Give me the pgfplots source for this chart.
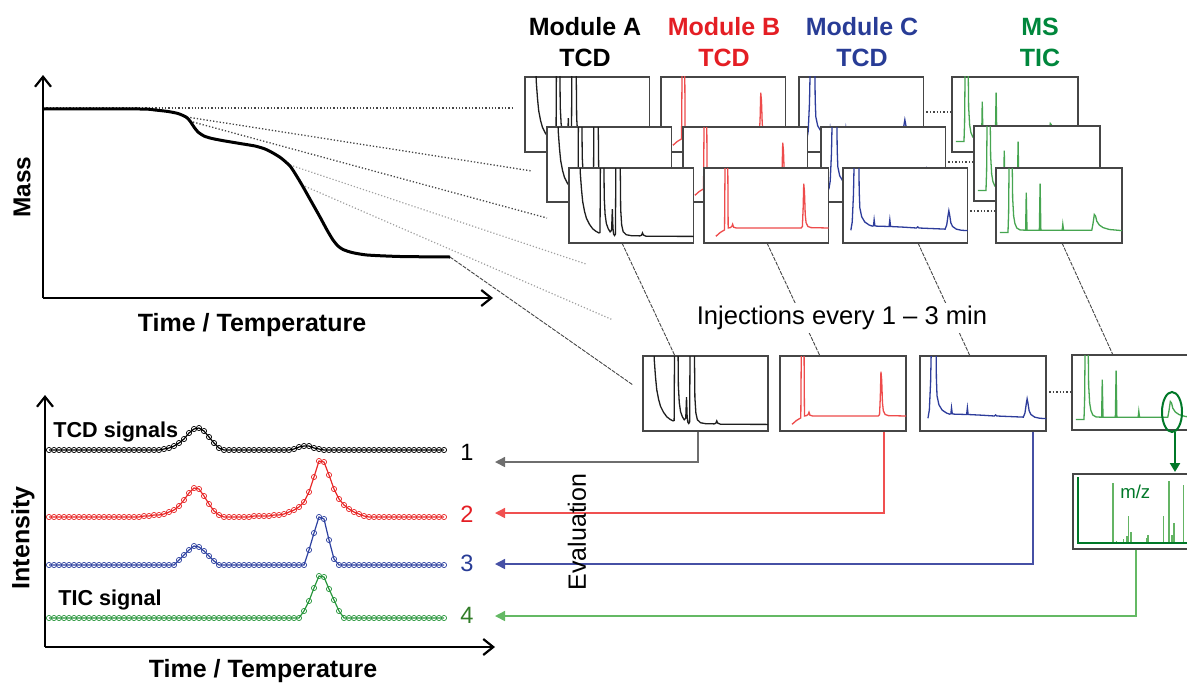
\documentclass[border=0pt]{standalone}
\usepackage{pgfplots}
\pgfplotsset{compat=1.18}
\usepackage{pgfplotstable}
\usepackage{fontspec}
\setmainfont{Liberation Sans}
\usetikzlibrary{arrows.meta}
\newcommand{\fs}[1]{\fontsize{#1}{#1}\selectfont}
\definecolor{frame}{RGB}{70,70,70}
\definecolor{tA}{RGB}{30,30,30}
\definecolor{tB}{RGB}{238,75,75}
\definecolor{tC}{RGB}{45,60,155}
\definecolor{tM}{RGB}{70,165,80}
\definecolor{txB}{RGB}{228,30,36}
\definecolor{txC}{RGB}{40,60,150}
\definecolor{txM}{RGB}{0,135,60}
\definecolor{n4}{RGB}{50,125,40}
\definecolor{sR}{RGB}{232,40,40}
\definecolor{sB}{RGB}{45,65,160}
\definecolor{sG}{RGB}{40,150,60}
\definecolor{dotd}{RGB}{70,70,70}
\definecolor{dotl}{RGB}{160,160,160}
\definecolor{ev1}{RGB}{110,110,110}
\definecolor{ev2}{RGB}{240,80,80}
\definecolor{ev3}{RGB}{70,80,165}
\definecolor{ev4}{RGB}{100,185,100}
\definecolor{dg}{RGB}{0,120,40}
\definecolor{lg}{RGB}{100,180,100}

\pgfplotstableread{
x y
8.5 130
9 95
10 72
11 55
12.5 42
14 33
16.4 25
19 19
21.7 15.5
24 13.5
24.9 14
25.3 130
27.9 130
28.3 60
29 38
30 26
31.5 19
33 15
34.2 17
34.8 45
35.3 20
35.8 12
36.6 10
37.3 12
37.7 130
41 130
41.5 45
42.3 24
43.5 15
46 11
50 9.8
57 9.5
58.3 10.5
59 13.5
59.8 10.5
62 9
100 8.8
}\tA
\pgfplotstableread{
x y
9.5 9
11 11
13 14
15 16
16.5 17.5
17 130
19 130
19.4 20
21 20.5
22.3 22
23 25
23.8 21
26 20
60 20
78 20
79 22
79.6 45
80.1 79
80.7 68
81.3 38
82 27
83.5 22
86 20.5
100 20
}\tB
\pgfplotstableread{
x y
6.3 17
7.4 28
8.4 65
9.2 130
12.6 130
13 70
13.5 47
15 35
17.5 28
21 24
23.5 22.5
24.5 23
25 31
25.6 23
27 22.5
37 22
37.6 31
38.2 22
50 21
59 20
60 21.5
61 20
82 18.5
83.3 24
84.3 36
85 43
85.7 37
86.6 27
88 22
91 18.5
95 17
100 16.5
}\tC
\pgfplotstableread{
x y
3 14
9.5 14
10 40
10.5 130
12.7 130
13.2 60
14 36
15 26
16.5 20
19 17.5
23.5 17
24 67
24.6 17
34.4 17
35 79
35.6 17
52.5 17
53 25
53.6 17
76 17
77 26
78 38
79 36
80 29
82 24
85 20.5
90 18
100 16.5
}\tM
\pgfplotstableread{
x y1 y2 y3 y4
49 232 165 117 64
54 232 165 117 64
59 232 165 117 64
64 232 165 117 64
69 232 165 117 64
74 232 165 117 64
79 232 165 117 64
84 232 165 117 64
89 232 165 117 64
94 232 165 117 64
99 232 165 117 64
104 232 165 117 64
109 232 165 117 64
114 232 165 117 64
119 232 165 117 64
124 232 165 117 64
129 232 165 117 64
134 232 165 117 64
139 232 165 117 64
144 232 166 117 64
149 232 166 117 64
154 232 167 117 64
159 232 167 117 64
164 233 168 117 64
169 234 170 117 64
174 236 172 117 64
179 239 176 122 64
184 243 182 127 64
189 249 189 132 64
194 253 194 136 64
199 254 193 135 64
204 251 186 131 64
209 245 178 126 64
214 239 171 121 64
219 234 167 117 64
224 232 165 117 64
229 232 165 117 64
234 232 165 117 64
239 232 165 117 64
244 232 165 117 64
249 232 165 117 64
254 232 166 117 64
259 232 166 117 64
264 232 166 117 64
269 232 166 117 64
274 232 167 117 64
279 232 167 117 64
284 232 168 117 64
289 232 170 117 64
294 233 172 117 64
299 235 175 117 64
304 236 180 117 71
309 236 190 132 81
314 234 205 149 94
319 233 221 165 106
324 232 220 163 105
329 232 207 142 93
334 232 193 123 82
339 232 183 117 71
344 232 177 117 64
349 232 173 117 64
354 232 170 117 64
359 232 168 117 64
364 232 166 117 64
369 232 165 117 64
374 232 165 117 64
379 232 165 117 64
384 232 165 117 64
389 232 165 117 64
394 232 165 117 64
399 232 165 117 64
404 232 165 117 64
409 232 165 117 64
414 232 165 117 64
419 232 165 117 64
424 232 165 117 64
429 232 165 117 64
434 232 165 117 64
439 232 165 117 64
444 232 165 117 64
}\tInt

\pgfplotsset{
  box/.style={scale only axis, width=62.25pt, height=37.5pt,
    xmin=0, xmax=100, ymin=0, ymax=100, anchor=north west,
    xtick=\empty, ytick=\empty,
    axis background/.style={fill=white},
    axis line style={draw=frame, line width=0.75pt}},
  arrowaxis/.style={scale only axis, axis lines=left, xtick=\empty, ytick=\empty,
    clip=false,
    axis line style={line width=1.2pt},
    x axis line style={-{Straight Barb[length=5pt,width=8pt,line width=1.1pt]}},
    y axis line style={-{Straight Barb[length=5pt,width=8pt,line width=1.1pt]}}},
  trA/.style={tA, line width=0.65pt},
  trB/.style={tB, line width=0.65pt},
  trC/.style={tC, line width=0.65pt},
  trM/.style={tM, line width=0.65pt},
  ser/.style={line width=0.6pt, mark=o, mark size=1.3pt, mark options={line width=0.35pt, fill=white}},
}

\begin{document}
\begin{tikzpicture}
\useasboundingbox (0,0) rectangle (593.5pt,341pt);
\clip (0,0) rectangle (593.5pt,341pt);

% ---------- background / annotation axis in pixel coordinates ----------
\begin{axis}[at={(0,0)}, anchor=south west, scale only axis,
  width=593.5pt, height=341pt, xmin=0, xmax=1187, ymin=0, ymax=682,
  y dir=reverse, hide axis, clip=false]
\coordinate (A1) at (axis cs:525,77);
\coordinate (B1) at (axis cs:661,77);
\coordinate (C1) at (axis cs:799,77);
\coordinate (M1) at (axis cs:952,77);
\coordinate (A2) at (axis cs:547,127);
\coordinate (B2) at (axis cs:683,127);
\coordinate (C2) at (axis cs:821,127);
\coordinate (M2) at (axis cs:974,126);
\coordinate (A3) at (axis cs:569,168);
\coordinate (B3) at (axis cs:704,168);
\coordinate (C3) at (axis cs:843,168);
\coordinate (M3) at (axis cs:996,168);
\coordinate (A4) at (axis cs:643,356);
\coordinate (B4) at (axis cs:780,356);
\coordinate (C4) at (axis cs:920,356);
\coordinate (M4) at (axis cs:1072,355);
\coordinate (MZ) at (axis cs:1073,474);
\coordinate (TGA) at (axis cs:43,298);
\coordinate (INT) at (axis cs:45,647);
\coordinate (ELL) at (axis cs:1172,412);
\coordinate (GA1) at (axis cs:1175,432);
\coordinate (GA2) at (axis cs:1175,472);

% TGA connectors
\draw[dotd, densely dotted, line width=0.65pt] (axis cs:43,108) -- (axis cs:512,108);
\draw[dotd, densely dotted, line width=0.65pt] (axis cs:187,117) -- (axis cs:532,171);
\draw[dotd, densely dotted, line width=0.65pt] (axis cs:193,122) -- (axis cs:547,218);
\draw[dotl, densely dotted, line width=0.6pt] (axis cs:290,165) -- (axis cs:586,264);
\draw[dotl, densely dotted, line width=0.6pt] (axis cs:302,185) -- (axis cs:613,320);
\draw[dotd, dash pattern=on 2pt off 0.6pt, line width=0.45pt] (axis cs:450,257) -- (axis cs:633,385);

% module to MS dotted links
\draw[dotd, densely dotted, line width=0.7pt] (axis cs:923,112) -- (axis cs:952,112);
\draw[dotd, densely dotted, line width=0.7pt] (axis cs:945,162) -- (axis cs:974,162);
\draw[dotd, densely dotted, line width=0.7pt] (axis cs:967,211) -- (axis cs:996,211);
\draw[dotd, densely dotted, line width=0.7pt] (axis cs:1046,392) -- (axis cs:1072,392);

% row 3 -> row 4 links
\draw[dotd, dash pattern=on 2pt off 0.6pt, line width=0.45pt] (axis cs:622,243) -- (axis cs:675,356);
\draw[dotd, dash pattern=on 2pt off 0.6pt, line width=0.45pt] (axis cs:767,243) -- (axis cs:820,356);
\draw[dotd, dash pattern=on 2pt off 0.6pt, line width=0.45pt] (axis cs:918,243) -- (axis cs:970,356);
\draw[dotd, dash pattern=on 2pt off 0.6pt, line width=0.45pt] (axis cs:1062,243) -- (axis cs:1113,355);

\node[fill=white, inner sep=1.5pt, font=\fs{12.8pt}] at (axis cs:842,318) {Injections every 1 -- 3 min};

% evaluation arrows
\draw[ev1, line width=0.75pt, -{Triangle[length=5pt,width=5pt]}] (axis cs:698,432) -- (axis cs:698,462) -- (axis cs:495,462);
\draw[ev2, line width=0.75pt, -{Triangle[length=5pt,width=5pt]}] (axis cs:884,431) -- (axis cs:884,513) -- (axis cs:495,513);
\draw[ev3, line width=0.75pt, -{Triangle[length=5pt,width=5pt]}] (axis cs:1033,431) -- (axis cs:1033,564) -- (axis cs:495,564);
\draw[ev4, line width=0.75pt, -{Triangle[length=5pt,width=5pt]}] (axis cs:1136,549) -- (axis cs:1136,616) -- (axis cs:495,616);

\node[rotate=90, font=\fs{12.5pt}] at (axis cs:577,532) {Evaluation};

% header labels
\node[font=\bfseries\fs{12.5pt}] at (axis cs:585,27) {Module A};
\node[font=\bfseries\fs{12.5pt}] at (axis cs:585,58) {TCD};
\node[font=\bfseries\fs{12.5pt}, text=txB] at (axis cs:724,27) {Module B};
\node[font=\bfseries\fs{12.5pt}, text=txB] at (axis cs:724,58) {TCD};
\node[font=\bfseries\fs{12.5pt}, text=txC] at (axis cs:862,27) {Module C};
\node[font=\bfseries\fs{12.5pt}, text=txC] at (axis cs:862,58) {TCD};
\node[font=\bfseries\fs{12.5pt}, text=txM] at (axis cs:1040,27) {MS};
\node[font=\bfseries\fs{12.5pt}, text=txM] at (axis cs:1040,58) {TIC};

% axis labels of left plots
\node[rotate=90, font=\bfseries\fs{12.2pt}] at (axis cs:22,187) {Mass};
\node[anchor=base, inner sep=0pt, font=\bfseries\fs{12.5pt}] at (axis cs:252,331) {Time / Temperature};
\node[rotate=90, font=\bfseries\fs{12.5pt}] at (axis cs:23,538) {Intensity};
\node[anchor=base, inner sep=0pt, font=\bfseries\fs{12.5pt}] at (axis cs:263,677) {Time / Temperature};
\node[anchor=base west, inner sep=0pt, font=\bfseries\fs{10.8pt}] at (axis cs:53,437) {TCD signals};
\node[anchor=base west, inner sep=0pt, font=\bfseries\fs{10.8pt}] at (axis cs:58,605) {TIC signal};

% series numbers
\node[anchor=base, inner sep=0pt, font=\fs{11.8pt}] at (axis cs:467,460) {1};
\node[anchor=base, inner sep=0pt, font=\fs{11.8pt}, text=txB] at (axis cs:467,522) {2};
\node[anchor=base, inner sep=0pt, font=\fs{11.8pt}, text=txC] at (axis cs:467,571) {3};
\node[anchor=base, inner sep=0pt, font=\fs{11.8pt}, text=n4] at (axis cs:467,623) {4};
\end{axis}

% ---------- TGA plot ----------
\begin{axis}[arrowaxis, at={(TGA)}, anchor=south west, width=225pt, height=111.5pt,
  xmin=43, xmax=493, ymin=384, ymax=607]
\addplot[black, line width=1.5pt, smooth, tension=0.4] coordinates {
(43,573) (140,573) (155,572) (168,570.5) (178,568.5) (186,565) (190,561)
(194,555) (198,550) (204,546) (212,543.5) (225,541) (240,538.5) (255,536)
(265,533) (273,529) (281,524) (290,516) (296,507) (302,497) (311,481)
(320,465) (327,452) (333,442) (338,436) (343,432.5) (352,429.5) (367,427)
(400,425.5) (450,425)};
\end{axis}

% ---------- Intensity plot ----------
\begin{axis}[arrowaxis, at={(INT)}, anchor=south west, width=225pt, height=126pt,
  xmin=45, xmax=495, ymin=35, ymax=287]
\addplot[ser, black] table[x=x, y=y1] {\tInt};
\addplot[ser, sR] table[x=x, y=y2] {\tInt};
\addplot[ser, sB] table[x=x, y=y3] {\tInt};
\addplot[ser, sG] table[x=x, y=y4] {\tInt};
\end{axis}

% ---------- chromatogram boxes, back to front ----------
\begin{axis}[box, at={(A1)}] \addplot[trA] table {\tA}; \end{axis}
\begin{axis}[box, at={(B1)}] \addplot[trB] table {\tB}; \end{axis}
\begin{axis}[box, at={(C1)}] \addplot[trC] table {\tC}; \end{axis}
\begin{axis}[box, at={(M1)}, width=63pt] \addplot[trM] table {\tM}; \end{axis}

\begin{axis}[box, at={(A2)}] \addplot[trA] table {\tA}; \end{axis}
\begin{axis}[box, at={(B2)}] \addplot[trB] table {\tB}; \end{axis}
\begin{axis}[box, at={(C2)}] \addplot[trC] table {\tC}; \end{axis}
\begin{axis}[box, at={(M2)}, width=63pt] \addplot[trM] table {\tM}; \end{axis}

\begin{axis}[box, at={(A3)}] \addplot[trA] table {\tA}; \end{axis}
\begin{axis}[box, at={(B3)}] \addplot[trB] table {\tB}; \end{axis}
\begin{axis}[box, at={(C3)}] \addplot[trC] table {\tC}; \end{axis}
\begin{axis}[box, at={(M3)}, width=63pt] \addplot[trM] table {\tM}; \end{axis}

\begin{axis}[box, at={(A4)}, width=62.5pt] \addplot[trA] table {\tA}; \end{axis}
\begin{axis}[box, at={(B4)}, width=63pt] \addplot[trB] table {\tB}; \end{axis}
\begin{axis}[box, at={(C4)}, width=63pt] \addplot[trC] table {\tC}; \end{axis}
\begin{axis}[box, at={(M4)}, width=63pt] \addplot[trM] table {\tM}; \end{axis}

% ---------- mass spectrum ----------
\begin{axis}[box, at={(MZ)}, width=63.5pt, height=37.5pt, ymin=-8, ymax=92,
  axis line style={draw=frame, line width=1pt}]
\addplot[lg, line width=0.6pt, ycomb, mark=none] coordinates {
(31.5,80) (34,3) (40,6) (42.5,9) (43.5,36) (45.7,15) (58,7) (59,11)
(71,36) (75.6,83) (78,11) (79.5,27) (87,78)};
\addplot[dg, line width=0.9pt, mark=none] coordinates {(4,88) (4,0) (100,0)};
\node[text=dg, font=\fs{9.3pt}] at (axis cs:49,68) {m/z};
\end{axis}

% ellipse and arrow to spectrum
\draw[dg, line width=1pt] (ELL) ellipse [x radius=5pt, y radius=10pt];
\draw[dg, line width=1.3pt, -{Triangle[length=4.5pt,width=5pt]}] (GA1) -- (GA2);
\end{tikzpicture}
\end{document}
